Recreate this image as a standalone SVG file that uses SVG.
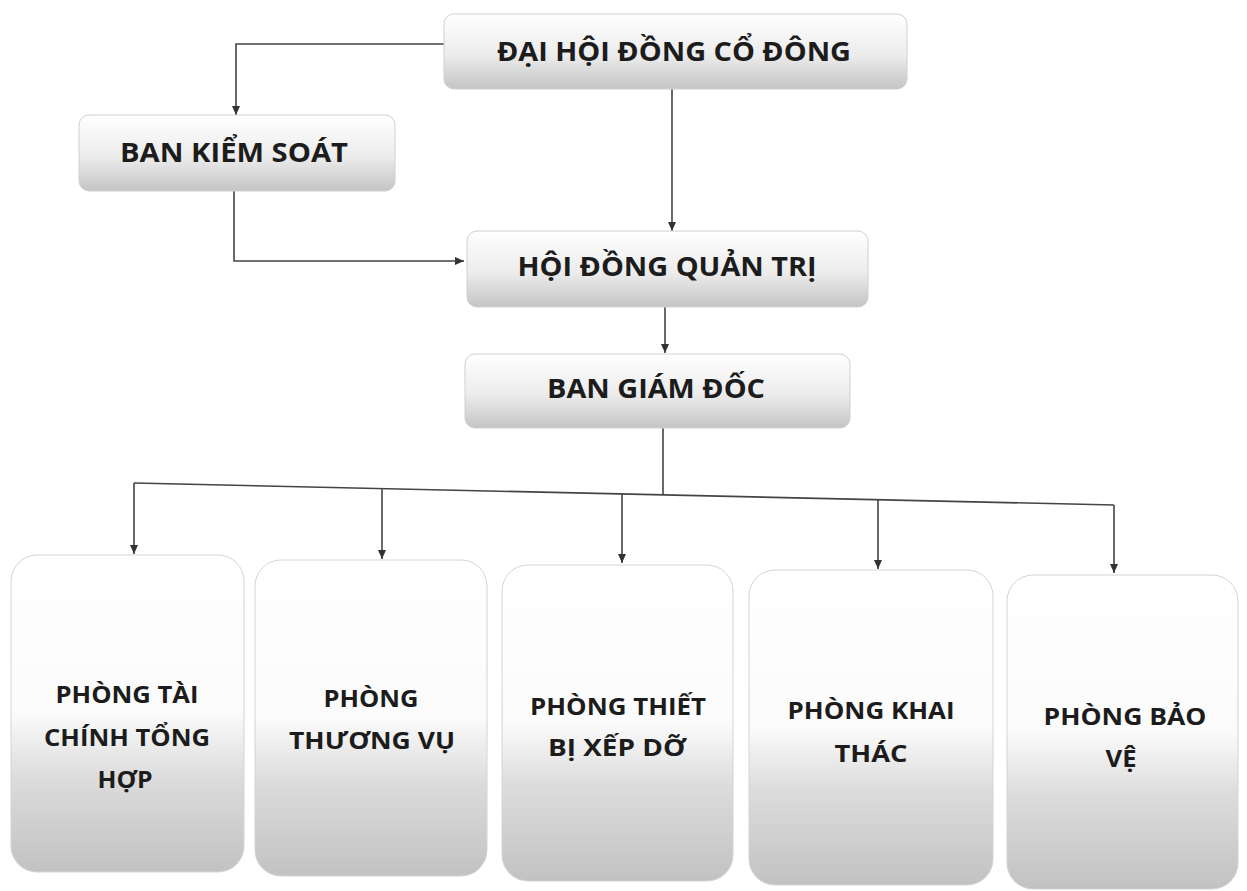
<svg xmlns="http://www.w3.org/2000/svg" width="1247" height="891" viewBox="0 0 1247 891">
<defs>
<linearGradient id="gTop" x1="0" y1="0" x2="0" y2="1">
<stop offset="0" stop-color="#ffffff"/>
<stop offset="0.55" stop-color="#ececec"/>
<stop offset="1" stop-color="#c4c4c4"/>
</linearGradient>
<linearGradient id="gBot" x1="0" y1="0" x2="0" y2="1">
<stop offset="0" stop-color="#ffffff"/>
<stop offset="0.5" stop-color="#fbfbfb"/>
<stop offset="0.7" stop-color="#dcdcdc"/>
<stop offset="1" stop-color="#c2c2c2"/>
</linearGradient>
<marker id="arr" markerWidth="10" markerHeight="10" refX="9" refY="5" orient="auto" markerUnits="userSpaceOnUse">
<path d="M0,1 L9,5 L0,9 Z" fill="#333333"/>
</marker>
</defs>
<style>
.box{fill:url(#gTop);stroke:#d0d0d0;stroke-width:1}
.dept{fill:url(#gBot);stroke:#d4d4d4;stroke-width:1}
.t{font-family:"Open Sans","Noto Sans","DejaVu Sans",sans-serif;font-weight:bold;fill:#1c1c1c}
.t1{font-size:26px}
.t2{font-size:23px}
.c{fill:none;stroke:#444444;stroke-width:1.6;marker-end:url(#arr)}
.l{fill:none;stroke:#444444;stroke-width:1.6}
</style>
<rect width="1247" height="891" fill="#ffffff"/>

<g id="connectors">
<path class="c" d="M444,44 L236,44 L236,115"/>
<path class="c" d="M672,89 L672,231"/>
<path class="c" d="M234,191 L234,261 L464,261"/>
<path class="c" d="M665,307 L665,353"/>
<path class="l" d="M663,428 L663,495"/>
<path class="l" d="M134,483 L1114,505"/>
<path class="c" d="M134,483 L134,554"/>
<path class="c" d="M382,488.5 L382,559"/>
<path class="c" d="M622,494 L622,563"/>
<path class="c" d="M878,499.7 L878,569"/>
<path class="c" d="M1114,505 L1114,573"/>
</g>

<g id="dhdcd">
<rect class="box" x="444" y="14" width="463" height="75" rx="10"/>
<text class="t t1" x="674" y="61" text-anchor="middle" textLength="354" lengthAdjust="spacingAndGlyphs">ĐẠI HỘI ĐỒNG CỔ ĐÔNG</text>
</g>

<g id="bks">
<rect class="box" x="79" y="115" width="316" height="76" rx="10"/>
<text class="t t1" x="234" y="162" text-anchor="middle" textLength="228" lengthAdjust="spacingAndGlyphs">BAN KIỂM SOÁT</text>
</g>

<g id="hdqt">
<rect class="box" x="467" y="231" width="401" height="76" rx="10"/>
<text class="t t1" x="667" y="276" text-anchor="middle" textLength="299" lengthAdjust="spacingAndGlyphs">HỘI ĐỒNG QUẢN TRỊ</text>
</g>

<g id="bgd">
<rect class="box" x="465" y="354" width="385" height="74" rx="10"/>
<text class="t t1" x="656" y="398" text-anchor="middle" textLength="218" lengthAdjust="spacingAndGlyphs">BAN GIÁM ĐỐC</text>
</g>

<g id="p1">
<rect class="dept" x="11" y="555" width="233" height="317" rx="26"/>
<text class="t t2" x="127" y="703" text-anchor="middle" textLength="143" lengthAdjust="spacingAndGlyphs">PHÒNG TÀI</text>
<text class="t t2" x="127" y="746" text-anchor="middle" textLength="166" lengthAdjust="spacingAndGlyphs">CHÍNH TỔNG</text>
<text class="t t2" x="125" y="788" text-anchor="middle" textLength="55" lengthAdjust="spacingAndGlyphs">HỢP</text>
</g>

<g id="p2">
<rect class="dept" x="255" y="560" width="232" height="316" rx="26"/>
<text class="t t2" x="371" y="707" text-anchor="middle" textLength="95" lengthAdjust="spacingAndGlyphs">PHÒNG</text>
<text class="t t2" x="372" y="749" text-anchor="middle" textLength="166" lengthAdjust="spacingAndGlyphs">THƯƠNG VỤ</text>
</g>

<g id="p3">
<rect class="dept" x="502" y="565" width="231" height="316" rx="26"/>
<text class="t t2" x="618" y="715" text-anchor="middle" textLength="176" lengthAdjust="spacingAndGlyphs">PHÒNG THIẾT</text>
<text class="t t2" x="617" y="756" text-anchor="middle" textLength="138" lengthAdjust="spacingAndGlyphs">BỊ XẾP DỠ</text>
</g>

<g id="p4">
<rect class="dept" x="749" y="570" width="244" height="315" rx="26"/>
<text class="t t2" x="871" y="719" text-anchor="middle" textLength="167" lengthAdjust="spacingAndGlyphs">PHÒNG KHAI</text>
<text class="t t2" x="871" y="762" text-anchor="middle" textLength="73" lengthAdjust="spacingAndGlyphs">THÁC</text>
</g>

<g id="p5">
<rect class="dept" x="1007" y="575" width="231" height="314" rx="26"/>
<text class="t t2" x="1125" y="725" text-anchor="middle" textLength="163" lengthAdjust="spacingAndGlyphs">PHÒNG BẢO</text>
<text class="t t2" x="1121" y="767" text-anchor="middle" textLength="31" lengthAdjust="spacingAndGlyphs">VỆ</text>
</g>
</svg>
